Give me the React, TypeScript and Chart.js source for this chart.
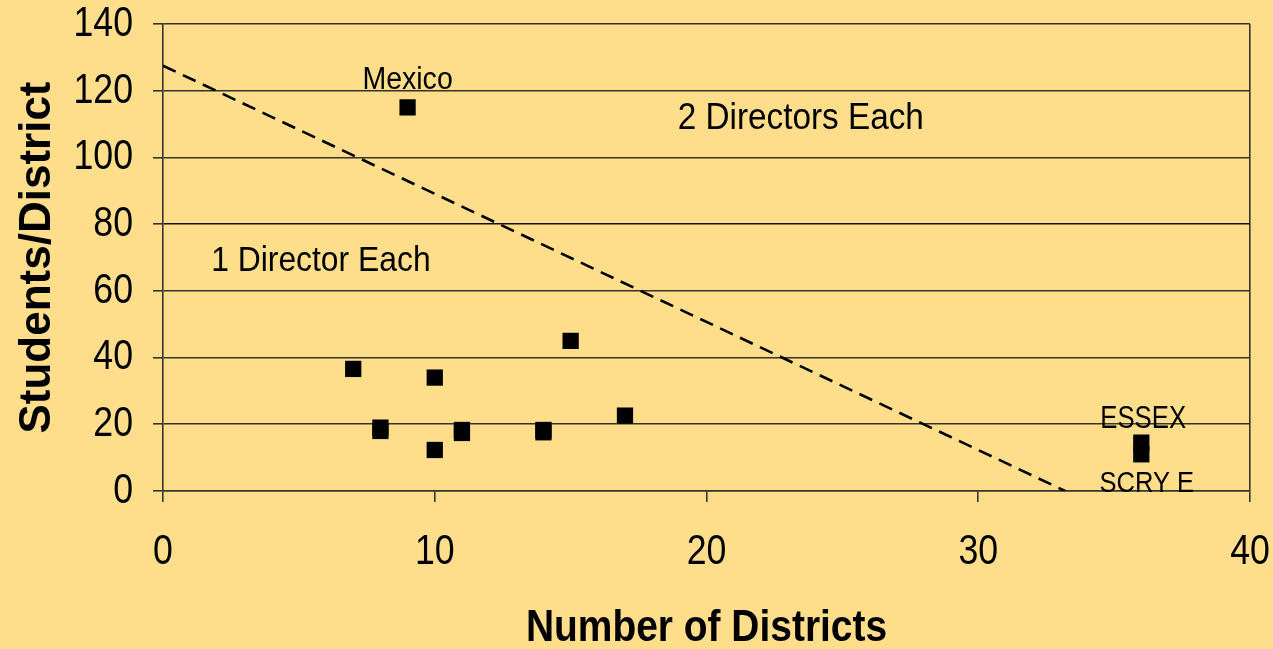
import React, { useEffect, useRef } from "react";
import { Chart, registerables } from "chart.js";

Chart.register(...registerables);

// Data points (Number of Districts, Students/District)
const districtCounts = [9, 7, 8, 8, 10, 10, 11, 11, 14, 14, 15, 17, 36, 36];
const studentsPerDistrict = [115, 36.6, 19, 18, 34, 12.3, 18.3, 17.4, 18.3, 17.6, 45, 22.6, 14.5, 11];

// Dividing line between 1 and 2 directors
const dividerX = [0, 33.2];
const dividerY = [127.5, 0];

const xTicks = [0, 10, 20, 30, 40];
const yTicks = [0, 20, 40, 60, 80, 100, 120, 140];

const xTitle = "Number of Districts";
const yTitle = "Students/District";

// Text annotations anchored in data space
const noteTexts = ["Mexico", "2 Directors Each", "1 Director Each", "ESSEX", "SCRY E"];
const noteX = [9, 23.47, 5.81, 36.07, 36.2];
const noteY = [123.2, 111.5, 68.7, 21.4, 2.2];
const noteSizes = [31, 37, 35, 31, 29];
const noteStretch = [0.92, 0.9, 0.91, 0.83, 0.88];

const BG = "#FEDE8B";
const GRID = "#36332a";
const FONT = "'Liberation Sans', Arial, sans-serif";

function condensedText(
  ctx: CanvasRenderingContext2D,
  text: string,
  x: number,
  y: number,
  sx: number,
  align: CanvasTextAlign
) {
  ctx.save();
  ctx.translate(x, y);
  ctx.scale(sx, 1);
  ctx.textAlign = align;
  ctx.textBaseline = "middle";
  ctx.fillText(text, 0, 0);
  ctx.restore();
}

export default function App() {
  const ref = useRef<HTMLCanvasElement | null>(null);

  useEffect(() => {
    document.body.style.margin = "0";
    document.body.style.background = BG;
    const canvas = ref.current;
    if (!canvas) return;

    const bgPlugin = {
      id: "bg",
      beforeDraw(chart: any) {
        const { ctx, width, height } = chart;
        ctx.save();
        ctx.fillStyle = BG;
        ctx.fillRect(0, 0, width, height);
        ctx.restore();
      },
    };

    // Tick labels, x title and notes drawn slightly condensed, as in the original rendering
    const textPlugin = {
      id: "condensedText",
      afterDraw(chart: any) {
        const { ctx, scales, chartArea } = chart;
        const xs = scales.x;
        const ys = scales.y;
        ctx.save();
        ctx.fillStyle = "#000";
        ctx.font = `43px ${FONT}`;
        xs.ticks.forEach((t: any) => {
          const label = t.label !== undefined ? String(t.label) : String(t.value);
          condensedText(ctx, label, xs.getPixelForValue(t.value), xs.top + 61, 0.83, "center");
        });
        ys.ticks.forEach((t: any) => {
          const label = t.label !== undefined ? String(t.label) : String(t.value);
          condensedText(ctx, label, ys.right - 30, ys.getPixelForValue(t.value), 0.83, "right");
        });
        ctx.font = `bold 45px ${FONT}`;
        condensedText(ctx, xTitle, (chartArea.left + chartArea.right) / 2, xs.bottom - 20, 0.865, "center");
        noteTexts.forEach((t, i) => {
          ctx.font = `${noteSizes[i]}px ${FONT}`;
          condensedText(ctx, t, xs.getPixelForValue(noteX[i]), ys.getPixelForValue(noteY[i]), noteStretch[i], "center");
        });
        ctx.restore();
      },
    };

    const chart = new Chart(canvas, {
      type: "scatter",
      data: {
        datasets: [
          {
            type: "line",
            data: dividerX.map((x, i) => ({ x, y: dividerY[i] })),
            borderColor: "#000",
            borderWidth: 2.6,
            borderDash: [14, 8],
            pointRadius: 0,
            fill: false,
          } as any,
          {
            type: "scatter",
            data: districtCounts.map((x, i) => ({ x, y: studentsPerDistrict[i] })),
            pointStyle: "rect",
            pointRadius: 11.5,
            backgroundColor: "#000",
            borderColor: "#000",
            borderWidth: 0,
          },
        ],
      },
      options: {
        responsive: false,
        animation: false,
        devicePixelRatio: 1,
        layout: { padding: { top: 24, right: 23, left: 0, bottom: 0 } },
        plugins: {
          legend: { display: false },
          tooltip: { enabled: false },
        },
        scales: {
          x: {
            type: "linear",
            min: 0,
            max: 40,
            afterBuildTicks: (s: any) => {
              s.ticks = xTicks.map((v) => ({ value: v }));
            },
            afterFit: (s: any) => {
              s.height = 158;
              s.paddingLeft = 0;
              s.paddingRight = 0;
            },
            ticks: { display: false },
            grid: {
              drawOnChartArea: true,
              drawTicks: true,
              color: (c: any) => (c.tick && c.tick.value === 40 ? GRID : "rgba(0,0,0,0)"),
              tickColor: GRID,
              tickLength: 11,
              lineWidth: 1.6,
            },
            border: { display: true, color: GRID, width: 1.6 },
            title: { display: false, text: xTitle },
          },
          y: {
            type: "linear",
            min: 0,
            max: 140,
            afterBuildTicks: (s: any) => {
              s.ticks = yTicks.map((v) => ({ value: v }));
            },
            afterFit: (s: any) => {
              s.width = 163;
              s.paddingTop = 0;
              s.paddingBottom = 0;
            },
            ticks: { display: false },
            grid: {
              color: (c: any) => (c.tick && c.tick.value === 80 ? "#111" : GRID),
              drawTicks: true,
              tickColor: GRID,
              tickLength: 10,
              lineWidth: 1.6,
            },
            border: { display: true, color: GRID, width: 1.6 },
            title: {
              display: true,
              text: yTitle,
              color: "#000",
              font: { family: FONT, size: 44, weight: "bold", lineHeight: 1.0 },
              padding: { top: 16, bottom: 0 },
            },
          },
        },
      },
      plugins: [bgPlugin, textPlugin],
    });

    return () => chart.destroy();
  }, []);

  return (
    <div style={{ position: "fixed", left: 0, top: 0, width: 1273, height: 649, background: BG }}>
      <canvas ref={ref} width={1273} height={649} style={{ width: 1273, height: 649 }} />
    </div>
  );
}
